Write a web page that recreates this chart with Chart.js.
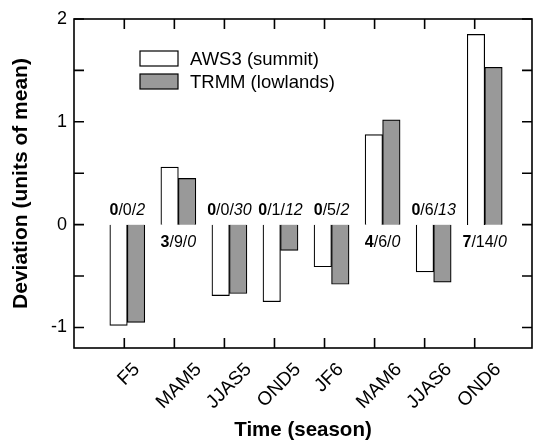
<!DOCTYPE html>
<html>
<head>
<meta charset="utf-8">
<script src="https://cdn.jsdelivr.net/npm/chart.js@4.4.0/dist/chart.umd.min.js"></script>
<style>
  html, body { margin: 0; padding: 0; background: #fff; }
  #wrap { width: 534px; height: 443px; }
</style>
</head>
<body>
<div id="wrap"><canvas id="chart"></canvas></div>
<script>
// seasons and deviations
const seasons = ['F5', 'MAM5', 'JJAS5', 'OND5', 'JF6', 'MAM6', 'JJAS6', 'OND6'];
const aws3 = [-0.98, 0.56, -0.69, -0.75, -0.41, 0.875, -0.46, 1.85];
const trmm = [-0.95, 0.45, -0.67, -0.25, -0.58, 1.02, -0.56, 1.53];
// counts printed next to each pair: bold / normal / italic
const countBold = [0, 3, 0, 0, 0, 4, 0, 7];
const countMid = [0, 9, 0, 1, 5, 6, 6, 14];
const countItalic = [2, 0, 30, 12, 2, 0, 13, 0];
const yMajor = [-1, 0, 1, 2];
const yMinor = [-0.5, 0.5, 1.5];

const FONT = '"Liberation Sans", Arial, Helvetica, sans-serif';

const toPoints = arr => arr.map((v, i) => ({ x: i, y: v }));

const framePlugin = {
    id: 'frame',
    afterDatasetsDraw(chart) {
        const ctx = chart.ctx;
        const area = chart.chartArea;
        const xs = chart.scales.x;
        const xb = chart.scales.xb;
        const ys = chart.scales.y;
        const tl = 10;
        ctx.save();
        ctx.strokeStyle = '#000';
        ctx.lineWidth = 1.6;
        ctx.strokeRect(area.left, area.top, area.right - area.left, area.bottom - area.top);

        ctx.beginPath();
        seasons.forEach((s, i) => {
            const px = xs.getPixelForValue(i);
            ctx.moveTo(px, area.bottom);
            ctx.lineTo(px, area.bottom - tl);
            ctx.moveTo(px, area.top);
            ctx.lineTo(px, area.top + tl);
        });
        yMajor.concat(yMinor).forEach(v => {
            const py = ys.getPixelForValue(v);
            ctx.moveTo(area.left, py);
            ctx.lineTo(area.left + tl, py);
            ctx.moveTo(area.right, py);
            ctx.lineTo(area.right - tl, py);
        });
        ctx.stroke();

        // season labels, rotated 45 deg and hung below the axis
        ctx.fillStyle = '#000';
        ctx.font = '19px ' + FONT;
        ctx.textAlign = 'center';
        ctx.textBaseline = 'middle';
        seasons.forEach((s, i) => {
            const w = ctx.measureText(s).width;
            const ext = (w + 14) / Math.SQRT2;
            ctx.save();
            ctx.translate(xs.getPixelForValue(i) + 4, area.bottom + 13 + ext / 2);
            ctx.rotate(-Math.PI / 4);
            ctx.fillText(s, 0, 1);
            ctx.restore();
        });

        // counts above / below each pair
        const y0 = ys.getPixelForValue(0);
        ctx.textBaseline = 'alphabetic';
        ctx.textAlign = 'left';
        seasons.forEach((s, i) => {
            const parts = [
                ['bold 16px ' + FONT, String(countBold[i])],
                ['16px ' + FONT, '/' + countMid[i] + '/'],
                ['italic 16px ' + FONT, String(countItalic[i])]
            ];
            let w = 0;
            parts.forEach(p => { ctx.font = p[0]; w += ctx.measureText(p[1]).width; });
            let x = xb.getPixelForValue(i) - w / 2;
            const up = aws3[i] < 0;
            const y = up ? y0 - 10 : y0 + 22;
            parts.forEach(p => {
                ctx.font = p[0];
                ctx.fillText(p[1], x, y);
                x += ctx.measureText(p[1]).width;
            });
        });

        // legend
        const lx = 140, lw = 38, lh = 15;
        const items = [['AWS3 (summit)', '#ffffff', 51], ['TRMM (lowlands)', '#999999', 74]];
        ctx.lineWidth = 1.2;
        ctx.font = '18.5px ' + FONT;
        ctx.textBaseline = 'middle';
        items.forEach(it => {
            ctx.fillStyle = it[1];
            ctx.fillRect(lx, it[2], lw, lh);
            ctx.strokeRect(lx, it[2], lw, lh);
            ctx.fillStyle = '#000';
            ctx.fillText(it[0], lx + lw + 12, it[2] + lh / 2 + 1);
        });
        ctx.restore();
    }
};

new Chart(document.getElementById('chart'), {
    type: 'bar',
    data: {
        datasets: [{
            label: 'AWS3 (summit)',
            data: toPoints(aws3),
            xAxisID: 'xb',
            yAxisID: 'y',
            backgroundColor: '#ffffff',
            borderColor: '#000000',
            borderWidth: 1.2,
            barThickness: 17.5
        }, {
            label: 'TRMM (lowlands)',
            data: toPoints(trmm),
            xAxisID: 'xb',
            yAxisID: 'y',
            backgroundColor: '#999999',
            borderColor: '#000000',
            borderWidth: 1.2,
            barThickness: 17.5
        }]
    },
    options: {
        responsive: true,
        maintainAspectRatio: false,
        animation: false,
        layout: { padding: { top: 19, right: 2, left: 0, bottom: 0 } },
        plugins: {
            legend: { display: false },
            tooltip: { enabled: false }
        },
        scales: {
            xb: {
                type: 'linear',
                position: 'top',
                offset: false,
                min: -1.044,
                max: 7.926,
                afterFit: s => { s.height = 0; },
                grid: { display: false, drawTicks: false, offset: false },
                border: { display: false },
                ticks: { display: false }
            },
            x: {
                type: 'linear',
                position: 'bottom',
                offset: false,
                min: -1.005,
                max: 8.145,
                afterBuildTicks: s => { s.ticks = seasons.map((_, i) => ({ value: i })); },
                afterFit: s => { s.height = 95; },
                grid: { display: false, drawTicks: false, offset: false },
                border: { display: false },
                ticks: { display: false },
                title: {
                    display: true,
                    text: 'Time (season)',
                    color: '#000',
                    font: { family: FONT, size: 20.5, weight: 'bold' },
                    padding: { top: 0, bottom: 0 }
                }
            },
            y: {
                type: 'linear',
                min: -1.2,
                max: 2,
                afterBuildTicks: s => { s.ticks = yMajor.map(v => ({ value: v })); },
                afterFit: s => { s.width = 74; },
                grid: { display: false, drawTicks: false },
                border: { display: false },
                ticks: {
                    padding: 7,
                    color: '#000',
                    font: { family: FONT, size: 18 },
                    callback: v => String(v)
                },
                title: {
                    display: true,
                    text: 'Deviation (units of mean)',
                    color: '#000',
                    font: { family: FONT, size: 21, weight: 'bold' },
                    padding: { top: 9, bottom: 0 }
                }
            }
        }
    },
    plugins: [framePlugin]
});
</script>
</body>
</html>
